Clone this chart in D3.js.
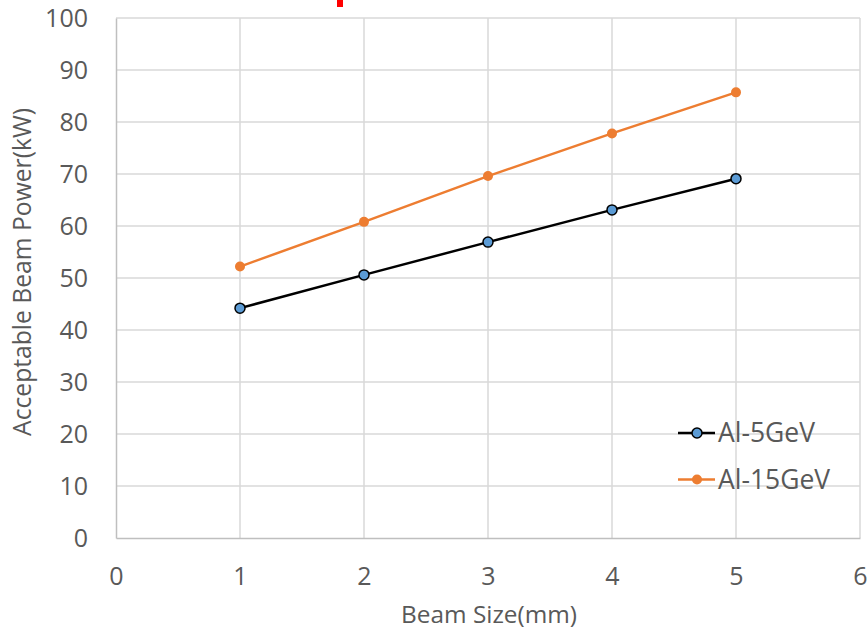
<!DOCTYPE html>
<html>
<head>
<meta charset="utf-8">
<script src="https://cdn.jsdelivr.net/npm/d3@7"></script>
<style>
  html, body { margin: 0; padding: 0; background: #fff; }
  svg { display: block; }
  text { font-family: "Open Sans", Lato, sans-serif; fill: #595959; }
</style>
</head>
<body>
<svg id="chart" width="868" height="631"></svg>
<script>
// Beam size (mm) on the x axis
const beamSize = [1, 2, 3, 4, 5];
// Acceptable beam power (kW) for each beam energy
const al5GeV = [44.2, 50.6, 56.9, 63.1, 69.1];
const al15GeV = [52.2, 60.8, 69.6, 77.8, 85.7];
const seriesNames = ["Al-5GeV", "Al-15GeV"];
const xTicks = [0, 1, 2, 3, 4, 5, 6];
const yTicks = [0, 10, 20, 30, 40, 50, 60, 70, 80, 90, 100];

const svg = d3.select("#chart");
const plotLeft = 116, plotRight = 860, plotTop = 18, plotBottom = 538;

const x = d3.scaleLinear().domain([0, 6]).range([plotLeft, plotRight]);
const y = d3.scaleLinear().domain([0, 100]).range([plotBottom, plotTop]);

// gridlines
svg.append("g").selectAll("line").data(yTicks.filter(d => d > 0)).join("line")
  .attr("x1", plotLeft).attr("x2", plotRight)
  .attr("y1", d => y(d)).attr("y2", d => y(d))
  .attr("stroke", "#d9d9d9").attr("stroke-width", 1.5);
svg.append("g").selectAll("line").data(xTicks.filter(d => d > 0)).join("line")
  .attr("x1", d => x(d)).attr("x2", d => x(d))
  .attr("y1", plotTop).attr("y2", plotBottom)
  .attr("stroke", "#d9d9d9").attr("stroke-width", 1.5);

// axes
const xAxis = svg.append("g").attr("transform", `translate(0,${plotBottom})`)
  .call(d3.axisBottom(x).tickValues(xTicks).tickFormat(d3.format("d")).tickSize(0).tickPadding(29));
const yAxis = svg.append("g").attr("transform", `translate(${plotLeft},0)`)
  .call(d3.axisLeft(y).tickValues(yTicks).tickFormat(d3.format("d")).tickSize(0).tickPadding(28));
[xAxis, yAxis].forEach(g => {
  g.select(".domain").attr("stroke", "#bfbfbf").attr("stroke-width", 1.5);
  g.selectAll("text").style("font-size", "25px").attr("fill", "#595959")
    .style("font-family", "'Open Sans', Lato, sans-serif");
});
xAxis.selectAll("text").attr("dy", null).attr("y", 47);
yAxis.selectAll("text").attr("dy", "0.34em");

// scale a text's font so it spans the given length
function fitWidth(sel, target, base) {
  sel.style("font-size", base + "px");
  const w = sel.node().getComputedTextLength();
  sel.style("font-size", (base * target / w).toFixed(2) + "px");
}

// axis titles
const xTitle = svg.append("text").attr("x", 489).attr("y", 623)
  .attr("text-anchor", "middle").text("Beam Size(mm)");
fitWidth(xTitle, 176, 24);
const yTitle = svg.append("text").attr("transform", `translate(31,272) rotate(-90)`)
  .attr("text-anchor", "middle").text("Acceptable Beam Power(kW)");
fitWidth(yTitle, 328, 24);

// red title fragment at the top edge
svg.append("rect").attr("x", 337).attr("y", 0).attr("width", 6).attr("height", 7).attr("fill", "#ff0000");

const series = [
  { name: seriesNames[0], values: al5GeV, line: "#000000", fill: "#5b9bd5", stroke: "#000000" },
  { name: seriesNames[1], values: al15GeV, line: "#ed7d31", fill: "#ed7d31", stroke: "none" }
];

const lineGen = d3.line().x((d, i) => x(beamSize[i])).y(d => y(d));

series.forEach(s => {
  svg.append("path").datum(s.values).attr("d", lineGen)
    .attr("fill", "none").attr("stroke", s.line).attr("stroke-width", 2.5);
  svg.append("g").selectAll("circle").data(s.values).join("circle")
    .attr("cx", (d, i) => x(beamSize[i])).attr("cy", d => y(d)).attr("r", 5)
    .attr("fill", s.fill).attr("stroke", s.stroke).attr("stroke-width", 1.5);
});

// legend
const legend = svg.append("g");
series.forEach((s, i) => {
  const ly = 433 + i * 46.5;
  legend.append("line").attr("x1", 678).attr("x2", 715).attr("y1", ly).attr("y2", ly)
    .attr("stroke", s.line).attr("stroke-width", 2.5);
  legend.append("circle").attr("cx", 697).attr("cy", ly).attr("r", 5)
    .attr("fill", s.fill).attr("stroke", s.stroke).attr("stroke-width", 1.5);
  const t = legend.append("text").attr("x", 718).attr("y", ly + 9).text(s.name);
  if (i === 0) fitWidth(t, 97, 25);
  else t.style("font-size", legend.select("text").style("font-size"));
});
</script>
</body>
</html>
